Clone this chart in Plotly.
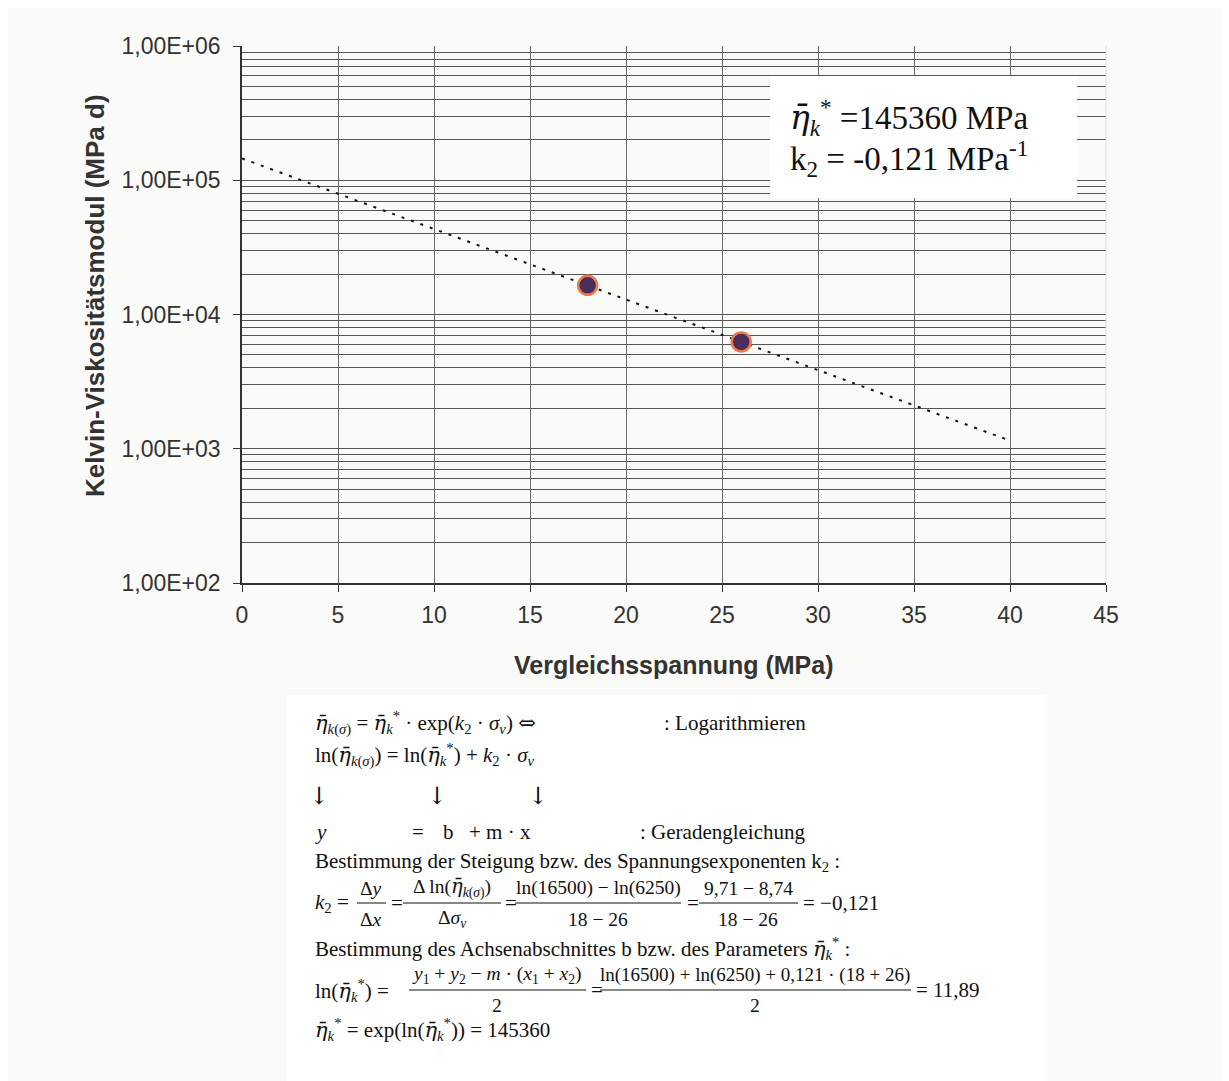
import plotly.graph_objects as go
import numpy as np

# ---- data ----
sigma_v = [18, 26]                 # Vergleichsspannung (MPa)
eta_k = [16500, 6250]              # Kelvin-Viskositätsmodul (MPa d)
eta_star = 145360                  # fitted parameter
k2 = -0.121                        # fitted exponent
trend_x = [0, 40]                  # range of trendline
trend_y = [eta_star * np.exp(k2 * x) for x in trend_x]
x_ticks = [0, 5, 10, 15, 20, 25, 30, 35, 40, 45]
y_ticks = [1e2, 1e3, 1e4, 1e5, 1e6]
y_ticktext = ["1,00E+02", "1,00E+03", "1,00E+04", "1,00E+05", "1,00E+06"]
y_minor = [m * 10 ** e for e in range(2, 6) for m in range(2, 10)]

OFF = 8  # page body margin
W, H = 1229 - OFF, 1081 - OFF
L, R, T, B = 242, 1106, 46, 583   # plot area in screen pixels
BG = "#fafaf8"


def px(x):
    return (x - L) / (R - L)


def py(y):
    return (B - y) / (B - T)


fig = go.Figure()
fig.add_trace(go.Scatter(x=trend_x, y=trend_y, mode="lines",
                         line=dict(color="#111111", width=2, dash="3px,7px"),
                         hoverinfo="skip", showlegend=False))
fig.add_trace(go.Scatter(x=sigma_v, y=eta_k, mode="markers",
                         marker=dict(size=19, color="#4a2f5e",
                                     line=dict(color="#f07a4a", width=2.5)),
                         showlegend=False))

SERIF = "Liberation Serif"
SANS = "Liberation Sans"
FS = 21
FF = 19.5   # fraction parts
annots = []
shapes = []


def ann(x, y, text, size=FS, xanchor="left", family=SERIF, color="#111111"):
    annots.append(dict(x=px(x), y=py(y), xref="paper", yref="paper", text=text,
                       showarrow=False, xanchor=xanchor, yanchor="middle",
                       font=dict(family=family, size=size, color=color)))


def bar(x0, x1, y):
    shapes.append(dict(type="line", xref="paper", yref="paper", x0=px(x0), x1=px(x1),
                       y0=py(y), y1=py(y), line=dict(color="#111111", width=1)))


# formula block background
shapes.append(dict(type="rect", xref="paper", yref="paper", x0=px(287), x1=px(1047), y0=py(695), y1=py(1100),
                   fillcolor="white", line=dict(width=0), layer="below"))
# right border of plot area
shapes.append(dict(type="line", xref="paper", yref="paper", x0=1, x1=1, y0=0, y1=1,
                   line=dict(color="#dddddd", width=1)))
# info box
shapes.append(dict(type="rect", xref="paper", yref="paper", x0=px(770), x1=px(1077), y0=py(76), y1=py(198),
                   fillcolor="white", line=dict(width=0), layer="above"))

ETA = "<span style='font-family:DejaVu Serif'><i>η̄</i></span>"
ETAK = ETA + "<sub><i>k</i></sub><sup>*</sup>"
ann(788, 118, ETAK + " =145360 MPa", size=33)
ann(788, 158, "k<sub>2</sub> = -0,121 MPa<sup>-1</sup>", size=33)

# axis titles
ann(674, 665, "<b>Vergleichsspannung (MPa)</b>", size=25, xanchor="center", family=SANS, color="#333333")
annots.append(dict(x=px(95), y=py(296), xref="paper", yref="paper",
                   text="<b>Kelvin-Viskositätsmodul (MPa d)</b>", textangle=-90,
                   showarrow=False, xanchor="center", yanchor="middle",
                   font=dict(family=SANS, size=26, color="#333333")))

# formula block
ARROWFONT = "<span style='font-family:DejaVu Serif'>%s</span>"
ETAKS = ETA + "<sub><i>k</i>(<i>σ</i>)</sub>"
ann(313, 723, ETAKS + " = " + ETAK + " · exp(<i>k</i><sub>2</sub> · <i>σ</i><sub><i>v</i></sub>) " + ARROWFONT % "⇔")
ann(662, 723, ": Logarithmieren")
ann(313, 755, "ln(" + ETAKS + ") = ln(" + ETAK + ") + <i>k</i><sub>2</sub> · <i>σ</i><sub><i>v</i></sub>")
for ax in (319, 437, 538):
    ann(ax, 796, ARROWFONT % "↓", xanchor="center", size=24)
ann(313, 832, "<i>y</i>")
ann(410, 832, "=")
ann(441, 832, "b")
ann(467, 832, "+ m · x")
ann(638, 832, ": Geradengleichung")
ann(313, 862, "Bestimmung der Steigung bzw. des Spannungsexponenten k<sub>2</sub> :")

# fraction line 1
fy = 903
ann(313, fy, "<i>k</i><sub>2</sub> =")
ann(371, fy - 15, "Δ<i>y</i>", xanchor="center", size=FF)
ann(371, fy + 16, "Δ<i>x</i>", xanchor="center", size=FF)
bar(357, 386, fy)
ann(389, fy, "=")
ann(452, fy - 15, "Δ ln(" + ETAKS + ")", xanchor="center", size=FF)
ann(452, fy + 16, "Δ<i>σ</i><sub><i>v</i></sub>", xanchor="center", size=FF)
bar(403, 501, fy)
ann(503, fy, "=")
ann(598, fy - 15, "ln(16500) − ln(6250)", xanchor="center", size=FF)
ann(598, fy + 16, "18 − 26", xanchor="center", size=FF)
bar(515, 681, fy)
ann(685, fy, "=")
ann(748, fy - 15, "9,71 − 8,74", xanchor="center", size=FF)
ann(748, fy + 16, "18 − 26", xanchor="center", size=FF)
bar(699, 798, fy)
ann(801, fy, "= −0,121")

ann(313, 948, "Bestimmung des Achsenabschnittes b bzw. des Parameters " + ETAK + " :")

# fraction line 2
gy = 990
ann(313, gy, "ln(" + ETAK + ") =")
ann(497, gy - 15, "<i>y</i><sub>1</sub> + <i>y</i><sub>2</sub> − <i>m</i> · (<i>x</i><sub>1</sub> + <i>x</i><sub>2</sub>)",
    xanchor="center", size=FF)
ann(497, gy + 16, "2", xanchor="center", size=FF)
bar(409, 586, gy)
ann(589, gy, "=")
ann(755, gy - 15, "ln(16500) + ln(6250) + 0,121 · (18 + 26)", xanchor="center", size=19)
ann(755, gy + 16, "2", xanchor="center", size=FF)
bar(600, 911, gy)
ann(914, gy, "= 11,89")

ann(313, 1030, ETAK + " = exp(ln(" + ETAK + ")) = 145360")

fig.update_layout(
    width=W, height=H,
    margin=dict(l=L - OFF, r=W - (R - OFF), t=T - OFF, b=H - (B - OFF)),
    paper_bgcolor=BG, plot_bgcolor=BG,
    showlegend=False,
    annotations=annots, shapes=shapes,
    xaxis=dict(range=[0, 45], tickvals=x_ticks, showgrid=True, gridcolor="#6a6a6a", gridwidth=1,
               zeroline=False, showline=True, linecolor="#333333", linewidth=1.5,
               ticks="outside", ticklen=7, tickcolor="#333333", ticklabelstandoff=4,
               tickfont=dict(family=SANS, size=23, color="#333333")),
    yaxis=dict(type="log", range=[2, 6], tickvals=y_ticks, ticktext=y_ticktext,
               showgrid=True, gridcolor="#555555", gridwidth=1,
               minor=dict(tickvals=y_minor, showgrid=True, gridcolor="#555555", gridwidth=1, ticks=""),
               zeroline=False, showline=True, linecolor="#333333", linewidth=1.5,
               ticks="outside", ticklen=7, tickcolor="#333333", ticklabelstandoff=8,
               tickfont=dict(family=SANS, size=23, color="#333333")),
)

fig.write_html("out.html")
